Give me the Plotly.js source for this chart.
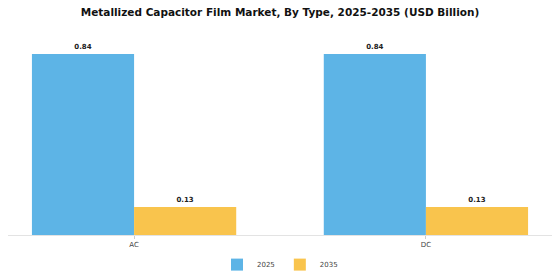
<!DOCTYPE html>
<html><head><meta charset="utf-8">
<script src="https://cdn.plot.ly/plotly-3.0.1.min.js"></script>
<style>html,body{margin:0;padding:0;background:#fff}#c{width:560px;height:280px}</style>
</head><body><div id="c"></div>
<script>
const categories = ["AC", "DC"];
const seriesNames = ["2025", "2035"];
const values2025 = [0.84, 0.84];
const values2035 = [0.13, 0.13];
const colors = ["#5DB4E6", "#F9C44D"];

const mk = (name, vals, color) => ({
  type: "bar", name: name, x: categories, y: vals,
  marker: {color: color},
  text: vals.map(v => "<b>" + v.toFixed(2) + "</b>"), textposition: "outside",
  textfont: {family: "DejaVu Sans", size: 7, color: "#222"},
  cliponaxis: false, hoverinfo: "none"
});

Plotly.newPlot("c", [
  mk(seriesNames[0], values2025, colors[0]),
  mk(seriesNames[1], values2035, colors[1])
], {
  width: 560, height: 280,
  margin: {l: 8, r: 8, t: 36, b: 45},
  paper_bgcolor: "#fff", plot_bgcolor: "#fff",
  barmode: "group", bargap: 0.3, bargroupgap: 0,
  title: {text: "<b>Metallized Capacitor Film Market, By Type, 2025-2035 (USD Billion)</b>",
    font: {family: "DejaVu Sans", size: 10.5, color: "#111"}, x: 0.5, xanchor: "center", y: 0.955, yanchor: "middle"},
  xaxis: {range: [-0.432, 1.432], showline: true, linecolor: "#e3e3e3", linewidth: 1,
    ticks: "outside", ticklen: 3, tickcolor: "#ccc",
    tickfont: {family: "DejaVu Sans", size: 7, color: "#444"}, showgrid: false},
  yaxis: {range: [0, 0.924], visible: false, showgrid: false, zeroline: false},
  showlegend: true,
  legend: {orientation: "h", x: 0.5, xanchor: "center", yref: "container", y: 0.055, yanchor: "middle",
    font: {family: "DejaVu Sans", size: 7, color: "#444"}, itemwidth: 30, tracegroupgap: 0}
}, {displayModeBar: false, staticPlot: true});
</script></body></html>
